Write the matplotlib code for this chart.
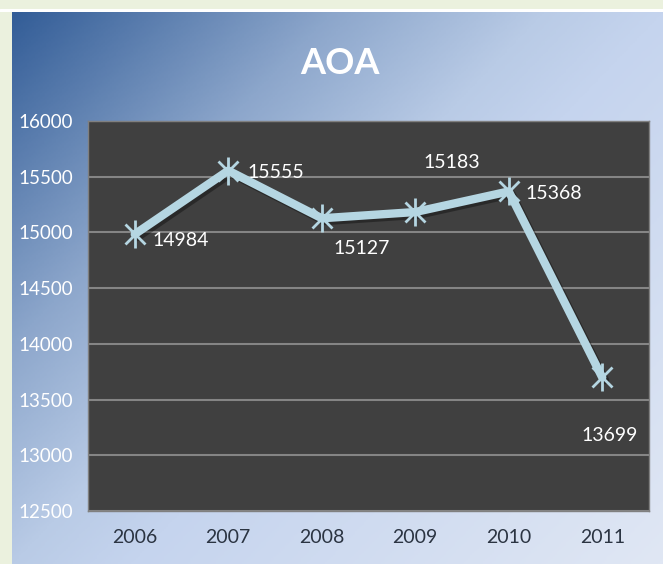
import numpy as np
import matplotlib
matplotlib.use("Agg")
import matplotlib.pyplot as plt
import matplotlib.patheffects as pe
from matplotlib.colors import LinearSegmentedColormap

plt.rcParams['font.family'] = ['Lato', 'DejaVu Sans']

years = ['2006', '2007', '2008', '2009', '2010', '2011']
values = [14984, 15555, 15127, 15183, 15368, 13699]
y_ticks = [12500, 13000, 13500, 14000, 14500, 15000, 15500, 16000]

# label offsets in pixels from each point, with horizontal alignment
label_offsets = [(18, -6, 'left'), (19, -2, 'left'), (40, -30, 'center'),
                 (37, 50, 'center'), (17, -2, 'left'), (7, -58, 'center')]

line_color = '#B5D6E2'

W, H = 663, 564
fig = plt.figure(figsize=(W / 100, H / 100), dpi=100, facecolor='#EBF1DE')

# white strip under the top border
strip = fig.add_axes([0, 1 - 12 / H, 1, 3 / H])
strip.axis('off')
strip.add_patch(plt.Rectangle((0, 0), 1, 1, color='white', transform=strip.transAxes))

# diagonal blue gradient behind the chart
bg = fig.add_axes([12 / W, 0, 1 - 12 / W, 1 - 12 / H])
bg.axis('off')
gx, gy = np.meshgrid(np.linspace(0, 1, 300), np.linspace(0, 1, 300))
t = gx * 0.55 + gy * 0.45
cmap = LinearSegmentedColormap.from_list('bg', [
    (0.0, '#335D97'), (0.27, '#8CA6CB'), (0.45, '#B9CBE6'),
    (0.55, '#C5D4EE'), (1.0, '#E0E7F4')])
bg.imshow(t, cmap=cmap, aspect='auto', extent=[0, 1, 1, 0], vmin=0, vmax=1)
bg.set_xlim(0, 1)
bg.set_ylim(1, 0)

fig.text(340 / W, 1 - 64 / H, 'AOA', color='white', fontsize=26,
         fontweight='bold', ha='center', va='center')

ax = fig.add_axes([88 / W, 1 - 511 / H, 561 / W, 390 / H])
ax.set_facecolor('#404040')
x = np.arange(len(years))
ax.set_xlim(-0.5, len(years) - 0.5)
ax.set_ylim(12500, 16000)
ax.set_yticks(y_ticks)
ax.set_xticks(x)
ax.set_xticklabels(years)
ax.grid(axis='y', color='#858585', linewidth=1.5)
ax.set_axisbelow(True)
ax.tick_params(length=0)
ax.tick_params(axis='y', colors='white', labelsize=13.5, pad=11)
ax.tick_params(axis='x', colors='#2B3442', labelsize=14, pad=13)
for s in ax.spines.values():
    s.set_color('#808080')
    s.set_linewidth(1)

shadow = [pe.SimpleLineShadow(offset=(2, -2), shadow_color='black', alpha=0.35), pe.Normal()]
ax.plot(x, values, color=line_color, linewidth=6, solid_capstyle='round',
        path_effects=shadow, zorder=3)
ax.plot(x, values, linestyle='none', marker='x', markersize=15,
        markeredgewidth=2, color=line_color, zorder=4)
ax.plot(x, values, linestyle='none', marker='|', markersize=20,
        markeredgewidth=2, color=line_color, zorder=4)

for xi, v, (dx, dy, ha) in zip(x, values, label_offsets):
    ax.annotate(str(v), (xi, v), xytext=(dx, dy), textcoords='offset pixels',
                color='white', fontsize=14, ha=ha, va='center', zorder=5)

fig.savefig('out.png', dpi=100, facecolor=fig.get_facecolor())
